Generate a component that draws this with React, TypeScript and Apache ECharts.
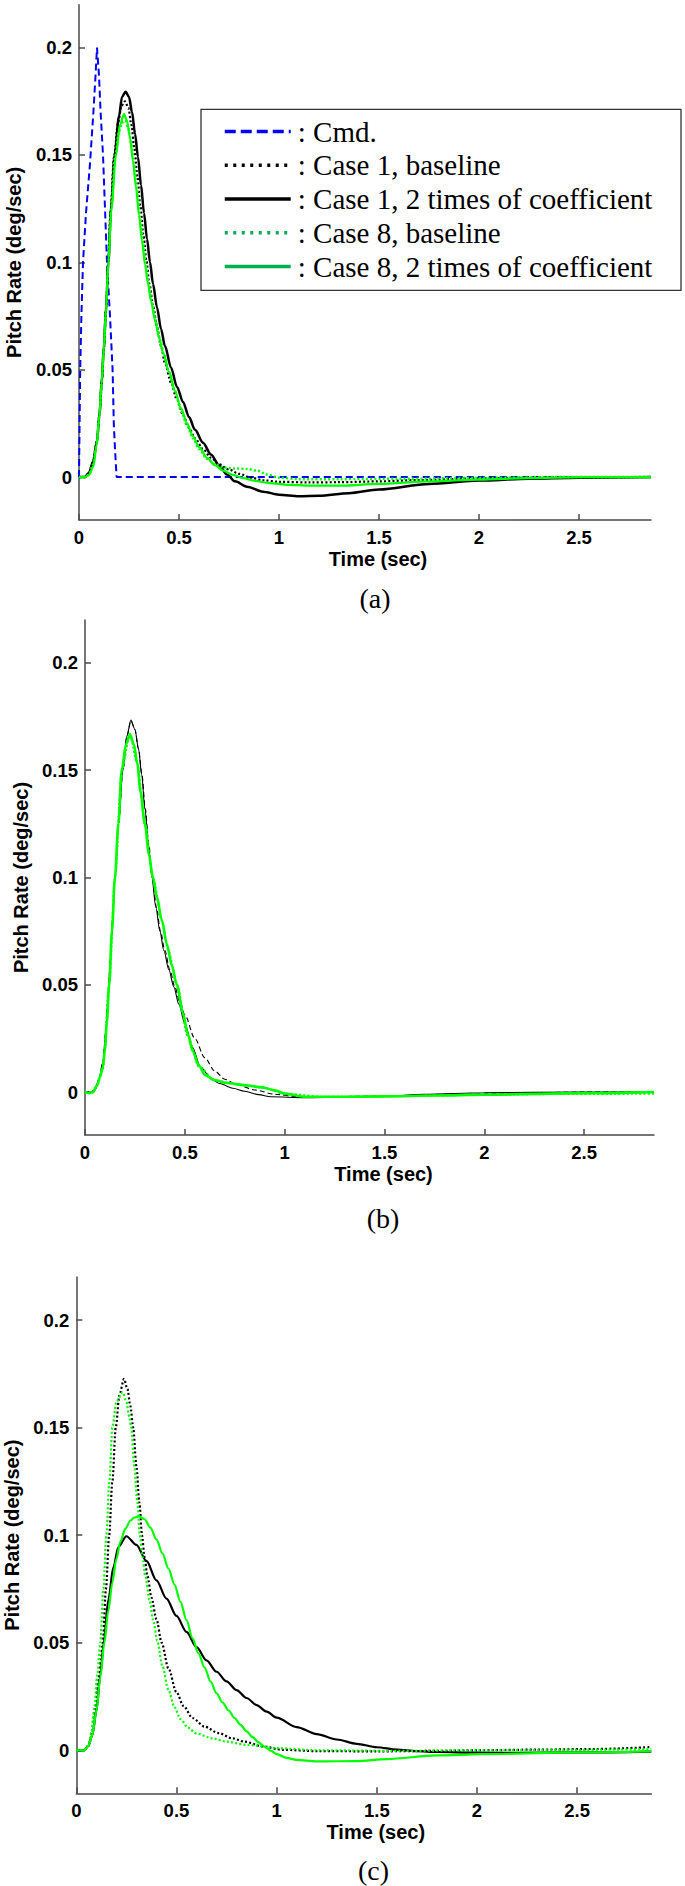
import React, { useEffect, useRef } from "react";
import * as echarts from "echarts";

// ---------- ticks / labels ----------
const xTicks = [0, 0.5, 1, 1.5, 2, 2.5];
const yTicks = [0, 0.05, 0.1, 0.15, 0.2];
const xTickLabels = ["0", "0.5", "1", "1.5", "2", "2.5"];
const yTickLabels = ["0", "0.05", "0.1", "0.15", "0.2"];
const yMin = -0.02;
const yMax = 0.22;
const xMaxA = 2.86;
const xMaxB = 2.85;
const xMaxC = 2.87;
const xAxisTitle = "Time (sec)";
const yAxisTitle = "Pitch Rate (deg/sec)";
const captions = ["(a)", "(b)", "(c)"];
const legendNames = [
  "Cmd.",
  "Case 1, baseline",
  "Case 1, 2 times of coefficient",
  "Case 8, baseline",
  "Case 8, 2 times of coefficient",
];

// ---------- panel (a) ----------
const cmdA = [
  [0, 0], [0.003, 0.026], [0.006, 0.05], [0.012, 0.075], [0.02, 0.1], [0.035, 0.123],
  [0.055, 0.146], [0.072, 0.17], [0.082, 0.186], [0.09, 0.2], [0.1, 0.187], [0.108, 0.17],
  [0.12, 0.15], [0.13, 0.125], [0.14, 0.1], [0.155, 0.075], [0.168, 0.05], [0.174, 0.025],
  [0.18, 0.013], [0.188, 0], [2.86, 0],
];
const case1BaseA = [
  [0, 0], [0.03, 0], [0.05, 0.002], [0.07, 0.007], [0.09, 0.017], [0.103, 0.03], [0.114, 0.045],
  [0.124, 0.06], [0.135, 0.078], [0.146, 0.1], [0.158, 0.124], [0.175, 0.149], [0.195, 0.165],
  [0.213, 0.173], [0.23, 0.175], [0.247, 0.172], [0.262, 0.164], [0.277, 0.153], [0.292, 0.14],
  [0.307, 0.126], [0.322, 0.113], [0.337, 0.101], [0.352, 0.09], [0.37, 0.08], [0.39, 0.07],
  [0.41, 0.061], [0.43, 0.053], [0.46, 0.044], [0.49, 0.036], [0.52, 0.029], [0.55, 0.023],
  [0.58, 0.018], [0.62, 0.013], [0.66, 0.009], [0.7, 0.006], [0.75, 0.0035], [0.8, 0.0015],
  [0.86, -0.0003], [0.92, -0.0015], [1.0, -0.0022], [1.15, -0.0025], [1.3, -0.0024], [1.5, -0.002],
  [1.7, -0.0014], [2.0, -0.0006], [2.3, -0.0002], [2.86, 0],
];
const case1TwoA = [
  [0, 0], [0.03, 0], [0.05, 0.002], [0.07, 0.007], [0.09, 0.017], [0.103, 0.03], [0.114, 0.045],
  [0.124, 0.06], [0.135, 0.078], [0.147, 0.1], [0.16, 0.125], [0.178, 0.15], [0.2, 0.168],
  [0.215, 0.177], [0.233, 0.1795], [0.25, 0.177], [0.265, 0.17], [0.28, 0.16], [0.295, 0.149],
  [0.31, 0.136], [0.325, 0.123], [0.34, 0.111], [0.355, 0.1], [0.37, 0.09], [0.39, 0.079],
  [0.41, 0.069], [0.43, 0.061], [0.46, 0.051], [0.49, 0.042], [0.52, 0.035], [0.55, 0.028],
  [0.58, 0.022], [0.62, 0.016], [0.66, 0.0105], [0.7, 0.0055], [0.74, 0.0012], [0.78, -0.002],
  [0.84, -0.0045], [0.92, -0.0068], [1.0, -0.0082], [1.1, -0.0089], [1.2, -0.0087], [1.35, -0.0075],
  [1.5, -0.0058], [1.75, -0.0032], [2.0, -0.0016], [2.25, -0.0008], [2.5, -0.0003], [2.86, 0],
];
const case8BaseA = [
  [0, 0], [0.03, 0], [0.05, 0.001], [0.07, 0.006], [0.09, 0.016], [0.103, 0.029], [0.114, 0.044],
  [0.124, 0.059], [0.135, 0.077], [0.147, 0.1], [0.16, 0.124], [0.18, 0.149], [0.2, 0.161],
  [0.215, 0.165], [0.23, 0.166], [0.245, 0.163], [0.26, 0.156], [0.275, 0.146], [0.29, 0.134],
  [0.305, 0.121], [0.32, 0.109], [0.335, 0.098], [0.35, 0.089], [0.365, 0.081], [0.385, 0.072],
  [0.405, 0.064], [0.425, 0.057], [0.45, 0.049], [0.48, 0.04], [0.51, 0.031], [0.54, 0.024],
  [0.57, 0.018], [0.6, 0.013], [0.64, 0.0085], [0.68, 0.006], [0.72, 0.0045], [0.78, 0.004],
  [0.84, 0.0038], [0.89, 0.003], [0.94, 0.0012], [1.0, -0.0003], [1.1, -0.001], [1.3, -0.001],
  [1.6, -0.0008], [2.0, -0.0004], [2.4, 0], [2.86, 0],
];
const case8TwoA = [
  [0, 0], [0.03, 0], [0.05, 0.001], [0.072, 0.005], [0.088, 0.015], [0.102, 0.029], [0.113, 0.044],
  [0.124, 0.06], [0.135, 0.078], [0.147, 0.1], [0.162, 0.125], [0.185, 0.15], [0.205, 0.164],
  [0.225, 0.169], [0.24, 0.166], [0.255, 0.158], [0.27, 0.147], [0.285, 0.135], [0.3, 0.122],
  [0.315, 0.11], [0.33, 0.099], [0.345, 0.09], [0.36, 0.082], [0.38, 0.073], [0.4, 0.065],
  [0.42, 0.058], [0.45, 0.049], [0.48, 0.04], [0.51, 0.032], [0.54, 0.025], [0.57, 0.019],
  [0.6, 0.014], [0.64, 0.009], [0.68, 0.0055], [0.72, 0.003], [0.77, 0.001], [0.82, -0.0005],
  [0.88, -0.0018], [0.95, -0.0028], [1.05, -0.0036], [1.15, -0.004], [1.3, -0.004], [1.5, -0.0032],
  [1.75, -0.002], [2.0, -0.0012], [2.25, -0.0005], [2.5, 0], [2.86, 0],
];

// ---------- panel (b) ----------
const blackSolidB = [
  [0, 0], [0.03, 0], [0.05, 0.001], [0.07, 0.006], [0.09, 0.014], [0.104, 0.028], [0.116, 0.045],
  [0.127, 0.062], [0.138, 0.08], [0.15, 0.1], [0.168, 0.125], [0.19, 0.15], [0.21, 0.166],
  [0.23, 0.1734], [0.25, 0.169], [0.268, 0.16], [0.284, 0.148], [0.3, 0.132], [0.318, 0.115],
  [0.335, 0.1], [0.355, 0.086], [0.375, 0.075], [0.395, 0.066], [0.42, 0.057], [0.445, 0.049],
  [0.47, 0.041], [0.5, 0.032], [0.537, 0.021], [0.58, 0.0115], [0.63, 0.0065], [0.673, 0.004],
  [0.74, 0.0018], [0.8, 0.0004], [0.87, -0.0012], [0.93, -0.0022], [1.1, -0.0026], [1.3, -0.0024],
  [1.5, -0.002], [1.7, -0.001], [2.0, -0.0003], [2.5, 0], [2.85, 0],
];
const blackDashedB = [
  [0, 0], [0.03, 0], [0.05, 0.001], [0.07, 0.006], [0.09, 0.014], [0.104, 0.028], [0.116, 0.045],
  [0.127, 0.062], [0.138, 0.08], [0.15, 0.1], [0.168, 0.125], [0.19, 0.15], [0.21, 0.166],
  [0.23, 0.173], [0.25, 0.169], [0.268, 0.16], [0.285, 0.148], [0.302, 0.132], [0.32, 0.115],
  [0.337, 0.1], [0.358, 0.086], [0.378, 0.075], [0.4, 0.066], [0.425, 0.057], [0.45, 0.049],
  [0.475, 0.042], [0.5, 0.036], [0.55, 0.025], [0.6, 0.016], [0.65, 0.0098], [0.7, 0.006],
  [0.76, 0.0035], [0.85, 0.001], [0.95, -0.001], [1.05, -0.002], [1.2, -0.0022], [1.5, -0.0018],
  [1.8, -0.0012], [2.1, -0.0006], [2.5, 0], [2.85, 0],
];
const greenDottedB = [
  [0, 0], [0.04, 0], [0.06, 0.003], [0.089, 0.0107], [0.121, 0.05], [0.15, 0.1], [0.184, 0.15],
  [0.225, 0.1665], [0.262, 0.153], [0.3, 0.125], [0.34, 0.1], [0.385, 0.08], [0.417, 0.066],
  [0.46, 0.05], [0.515, 0.026], [0.57, 0.012], [0.65, 0.0055], [0.75, 0.0038], [0.886, 0.0022],
  [1.0, -0.0007], [1.2, -0.0022], [1.5, -0.002], [2.0, -0.0013], [2.4, -0.0009], [2.85, -0.0008],
];
const greenSolidB = [
  [0, 0], [0.02, -0.0005], [0.04, 0], [0.06, 0.003], [0.075, 0.007], [0.089, 0.0115], [0.1, 0.02],
  [0.11, 0.033], [0.121, 0.05], [0.135, 0.075], [0.15, 0.1], [0.167, 0.125], [0.184, 0.15],
  [0.205, 0.162], [0.225, 0.1667], [0.245, 0.162], [0.262, 0.153], [0.278, 0.14], [0.3, 0.125],
  [0.32, 0.111], [0.34, 0.1], [0.36, 0.091], [0.385, 0.08], [0.41, 0.069], [0.435, 0.059],
  [0.46, 0.05], [0.49, 0.037], [0.515, 0.027], [0.54, 0.019], [0.57, 0.0125], [0.6, 0.008],
  [0.65, 0.0055], [0.711, 0.0042], [0.8, 0.0032], [0.886, 0.0022], [0.95, 0.0008], [1.0, -0.0007],
  [1.105, -0.0022], [1.3, -0.0022], [1.5, -0.002], [1.75, -0.0016], [2.0, -0.0012], [2.5, -0.0005],
  [2.85, 0],
];

// ---------- panel (c) ----------
const case1BaseC = [
  [0, 0], [0.04, 0], [0.06, 0.002], [0.077, 0.008], [0.095, 0.02], [0.11, 0.032], [0.122, 0.042],
  [0.132, 0.05], [0.148, 0.075], [0.164, 0.1], [0.18, 0.125], [0.197, 0.15], [0.215, 0.165],
  [0.238, 0.1726], [0.255, 0.168], [0.27, 0.16], [0.284, 0.15], [0.3, 0.132], [0.315, 0.115],
  [0.328, 0.1], [0.34, 0.09], [0.355, 0.081], [0.375, 0.071], [0.4, 0.061], [0.426, 0.05],
  [0.46, 0.038], [0.5, 0.027], [0.535, 0.0206], [0.58, 0.015], [0.64, 0.011], [0.71, 0.008],
  [0.78, 0.0055], [0.84, 0.004], [0.93, 0.0018], [1.03, 0.0002], [1.2, -0.0004], [1.5, -0.0005],
  [1.8, -0.0003], [2.0, 0], [2.3, 0.0003], [2.6, 0.0006], [2.87, 0.0015],
];
const case1TwoC = [
  [0, 0], [0.04, 0], [0.06, 0.002], [0.08, 0.007], [0.1, 0.018], [0.12, 0.035], [0.137, 0.05],
  [0.16, 0.07], [0.185, 0.085], [0.21, 0.0945], [0.25, 0.0995], [0.3, 0.0955], [0.35, 0.088],
  [0.4, 0.079], [0.45, 0.0705], [0.5, 0.0625], [0.55, 0.055], [0.6, 0.048], [0.65, 0.0418],
  [0.7, 0.0365], [0.75, 0.032], [0.8, 0.028], [0.85, 0.0243], [0.9, 0.021], [0.95, 0.018],
  [1.0, 0.0152], [1.1, 0.0108], [1.2, 0.0075], [1.3, 0.005], [1.4, 0.003], [1.5, 0.0014],
  [1.6, 0.0003], [1.7, -0.0004], [1.8, -0.0008], [2.0, -0.0011], [2.2, -0.0012], [2.5, -0.001],
  [2.87, -0.0006],
];
const case8BaseC = [
  [0, 0], [0.04, 0], [0.06, 0.002], [0.075, 0.008], [0.09, 0.02], [0.105, 0.035], [0.12, 0.05],
  [0.135, 0.075], [0.15, 0.1], [0.165, 0.125], [0.18, 0.15], [0.2, 0.162], [0.231, 0.1664],
  [0.25, 0.162], [0.265, 0.155], [0.274, 0.15], [0.29, 0.132], [0.305, 0.115], [0.317, 0.1],
  [0.33, 0.09], [0.345, 0.081], [0.365, 0.07], [0.385, 0.06], [0.404, 0.051], [0.43, 0.039],
  [0.46, 0.028], [0.49, 0.02], [0.52, 0.0145], [0.557, 0.0105], [0.6, 0.0078], [0.68, 0.0055],
  [0.75, 0.004], [0.85, 0.0025], [1.0, 0.001], [1.2, 0], [1.6, -0.0003], [2.0, 0], [2.5, 0.0002],
  [2.87, 0.0005],
];
const case8TwoC = [
  [0, 0], [0.04, 0], [0.06, 0.002], [0.08, 0.007], [0.1, 0.018], [0.12, 0.034], [0.14, 0.05],
  [0.16, 0.065], [0.18, 0.078], [0.2, 0.089], [0.22, 0.097], [0.245, 0.103], [0.27, 0.1068],
  [0.29, 0.1082], [0.312, 0.1087], [0.34, 0.1075], [0.37, 0.1035], [0.4, 0.098], [0.43, 0.0915],
  [0.46, 0.0845], [0.49, 0.077], [0.52, 0.069], [0.55, 0.0605], [0.58, 0.052], [0.61, 0.045],
  [0.64, 0.0385], [0.67, 0.032], [0.7, 0.0265], [0.73, 0.0222], [0.76, 0.0185], [0.79, 0.015],
  [0.82, 0.0118], [0.85, 0.0088], [0.88, 0.0061], [0.91, 0.0037], [0.94, 0.0016], [0.97, -0.0002],
  [1.0, -0.0018], [1.05, -0.0035], [1.1, -0.0045], [1.2, -0.0052], [1.4, -0.005], [1.55, -0.0041],
  [1.8, -0.0024], [2.02, -0.0018], [2.5, -0.001], [2.87, -0.0005],
];

const BLUE = "#0000ff";
const BLACK = "#000000";
const LIME = "#00ff00";
const LEGEND_GREEN = "#00b050";
const AXIS = "#4a4a4a";
const SANS = "'Liberation Sans', Arial, sans-serif";
const SERIF = "'Liberation Serif', 'Times New Roman', serif";

function fmtX(v: number) {
  const i = xTicks.findIndex((t) => Math.abs(t - v) < 1e-6);
  return i >= 0 ? xTickLabels[i] : "";
}
function fmtY(v: number) {
  const i = yTicks.findIndex((t) => Math.abs(t - v) < 1e-6);
  return i >= 0 ? yTickLabels[i] : "";
}

function makeX(gridIndex: number, max: number, namePad: number) {
  return {
    type: "value",
    gridIndex,
    min: 0,
    max,
    axisLine: { show: true, onZero: false, lineStyle: { color: AXIS, width: 1.5 } },
    axisTick: { show: true, inside: true, length: 6, customValues: xTicks, lineStyle: { color: AXIS, width: 1.5 } },
    axisLabel: {
      customValues: xTicks, margin: 8, color: "#000", fontFamily: SANS, fontWeight: "bold", fontSize: 18.5,
      formatter: fmtX,
    },
    splitLine: { show: false },
    name: xAxisTitle,
    nameLocation: "middle",
    nameGap: 29,
    nameTextStyle: { color: "#000", fontFamily: SANS, fontWeight: "bold", fontSize: 20, padding: [0, 0, 0, namePad] },
  };
}
function makeY(gridIndex: number, nameGap: number) {
  return {
    type: "value",
    gridIndex,
    min: yMin,
    max: yMax,
    axisLine: { show: true, onZero: false, lineStyle: { color: AXIS, width: 1.5 } },
    axisTick: { show: true, inside: true, length: 6, customValues: yTicks, lineStyle: { color: AXIS, width: 1.5 } },
    axisLabel: {
      customValues: yTicks, margin: 7, color: "#000", fontFamily: SANS, fontWeight: "bold", fontSize: 18.5,
      formatter: fmtY,
    },
    splitLine: { show: false },
    name: yAxisTitle,
    nameLocation: "middle",
    nameGap,
    nameTextStyle: { color: "#000", fontFamily: SANS, fontWeight: "bold", fontSize: 20 },
  };
}

function line(name: string, idx: number, data: number[][], color: string, width: number, type: any, smooth = true, z = 2) {
  return {
    type: "line",
    name,
    xAxisIndex: idx,
    yAxisIndex: idx,
    data,
    symbol: "none",
    showSymbol: false,
    smooth: smooth ? 0.3 : false,
    smoothMonotone: "x",
    lineStyle: { color, width, type },
    itemStyle: { color },
    z,
    silent: true,
  };
}

export default function App() {
  const ref = useRef<HTMLDivElement>(null);
  useEffect(() => {
    if (!ref.current) return;
    const chart = echarts.init(ref.current, null, { renderer: "svg" });
    const dot = [2, 2.2];
    const option: any = {
      animation: false,
      backgroundColor: "#ffffff",
      grid: [
        { left: 79, top: 4.7, width: 572, height: 515.3, outerBoundsMode: "none" },
        { left: 85, top: 620, width: 569, height: 515, outerBoundsMode: "none" },
        { left: 76.3, top: 1277, width: 575, height: 516.3, outerBoundsMode: "none" },
      ],
      xAxis: [makeX(0, xMaxA, 26), makeX(1, xMaxB, 28), makeX(2, xMaxC, 24)],
      yAxis: [makeY(0, 55), makeY(1, 52.5), makeY(2, 48)],
      legend: {
        orient: "vertical",
        left: 201,
        top: 109,
        itemWidth: 66,
        itemHeight: 14,
        itemGap: 4.75,
        padding: [8, 0, 9, 22],
        borderWidth: 0,
        backgroundColor: "transparent",
        selectedMode: false,
        z: 6,
        itemStyle: { opacity: 0 },
        textStyle: { fontFamily: SERIF, fontSize: 29, color: "#000", lineHeight: 29, padding: [0, 0, 0, 2] },
        formatter: (n: string) => ": " + n,
        data: [
          { name: legendNames[0], lineStyle: { color: BLUE, width: 3.5, type: [11, 5] } },
          { name: legendNames[1], lineStyle: { color: BLACK, width: 3.5, type: [3, 5.5] } },
          { name: legendNames[2], lineStyle: { color: BLACK, width: 3.5, type: "solid" } },
          { name: legendNames[3], lineStyle: { color: LEGEND_GREEN, width: 3.5, type: [3, 5.5] } },
          { name: legendNames[4], lineStyle: { color: LEGEND_GREEN, width: 3.5, type: "solid" } },
        ],
      },
      series: [
        line(legendNames[0], 0, cmdA, BLUE, 2, [7, 4], false, 2),
        line(legendNames[1], 0, case1BaseA, BLACK, 2.2, dot, true, 3),
        line(legendNames[2], 0, case1TwoA, BLACK, 2.5, "solid", true, 3),
        line(legendNames[3], 0, case8BaseA, LIME, 2.4, dot, true, 4),
        line(legendNames[4], 0, case8TwoA, LIME, 2.2, "solid", true, 4),

        line("b black solid", 1, blackSolidB, BLACK, 1.1, "solid", true, 3),
        line("b black dashed", 1, blackDashedB, BLACK, 1.1, [5, 3], true, 3),
        line("b green dotted", 1, greenDottedB, LIME, 2, dot, true, 3),
        line("b green solid", 1, greenSolidB, LIME, 2.6, "solid", true, 4),

        line("c case 1 baseline", 2, case1BaseC, BLACK, 2.2, dot, true, 3),
        line("c case 8 baseline", 2, case8BaseC, LIME, 2.2, dot, true, 4),
        line("c case 1 2x", 2, case1TwoC, BLACK, 2.2, "solid", true, 3),
        line("c case 8 2x", 2, case8TwoC, LIME, 2.2, "solid", true, 4),
      ],
      graphic: [
        {
          type: "rect", z: 5, silent: true,
          shape: { x: 201, y: 109.3, width: 480, height: 181 },
          style: { fill: "#ffffff", stroke: "#333333", lineWidth: 1.3 },
        },
        { type: "text", x: 375, y: 598, style: { text: captions[0], fontFamily: SERIF, fontSize: 28, fill: "#000", align: "center", verticalAlign: "middle" } },
        { type: "text", x: 383, y: 1218, style: { text: captions[1], fontFamily: SERIF, fontSize: 28, fill: "#000", align: "center", verticalAlign: "middle" } },
        { type: "text", x: 373.5, y: 1870, style: { text: captions[2], fontFamily: SERIF, fontSize: 28, fill: "#000", align: "center", verticalAlign: "middle" } },
      ],
    };
    chart.setOption(option);
    return () => chart.dispose();
  }, []);
  return <div ref={ref} style={{ position: "absolute", left: 0, top: 0, width: 685, height: 1886 }} />;
}
